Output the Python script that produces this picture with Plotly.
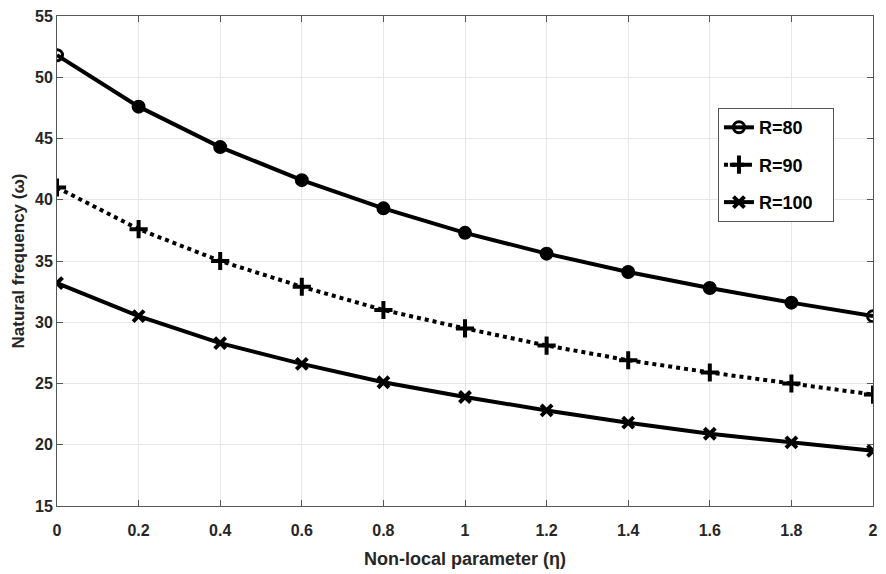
import plotly.graph_objects as go

eta = [0, 0.2, 0.4, 0.6, 0.8, 1.0, 1.2, 1.4, 1.6, 1.8, 2.0]
r80 = [51.8, 47.6, 44.3, 41.6, 39.3, 37.3, 35.6, 34.1, 32.8, 31.6, 30.5]
r90 = [41.0, 37.6, 35.0, 32.9, 31.0, 29.5, 28.1, 26.9, 25.9, 25.0, 24.1]
r100 = [33.2, 30.5, 28.3, 26.6, 25.1, 23.9, 22.8, 21.8, 20.9, 20.2, 19.5]
names = ["R=80", "R=90", "R=100"]

font_fam = "Liberation Sans, Arial, sans-serif"
pad = "\u00a0" * 3

fig = go.Figure()
sym80 = ["circle-open"] + ["circle"] * (len(eta) - 2) + ["circle-open"]
fig.add_trace(go.Scatter(x=eta, y=r80, name=names[0] + pad, mode="lines+markers",
                         line=dict(color="black", width=4),
                         marker=dict(symbol=sym80, size=11, color="black",
                                     line=dict(color="black", width=3)),
                         legendgroup="a"))
fig.add_trace(go.Scatter(x=eta, y=r90, name=names[1] + pad, mode="lines+markers",
                         line=dict(color="black", width=4, dash="4px,4px"),
                         marker=dict(symbol="cross-thin", size=13, color="black",
                                     line=dict(color="black", width=4)),
                         legendgroup="b"))
fig.add_trace(go.Scatter(x=eta, y=r100, name=names[2] + pad, mode="lines+markers",
                         line=dict(color="black", width=4),
                         marker=dict(symbol="x-thin", size=11, color="black",
                                     line=dict(color="black", width=4)),
                         legendgroup="c"))

axis_common = dict(showline=True, linecolor="#555555", linewidth=1, mirror="ticks",
                   ticks="inside", ticklen=6, tickcolor="#555555",
                   showgrid=True, gridcolor="#e6e6e6", gridwidth=1, zeroline=False,
                   tickfont=dict(family=font_fam, size=16, color="#262626", weight="bold"))

fig.update_xaxes(range=[0, 2], dtick=0.2, tickformat="~g", ticklabelstandoff=10,
                 title=dict(text="Non-local parameter (η)", standoff=14,
                            font=dict(family=font_fam, size=18, color="#262626", weight="bold")),
                 **axis_common)
fig.update_yaxes(range=[15, 55], dtick=5,
                 title=dict(text="Natural frequency (ω)", standoff=6,
                            font=dict(family=font_fam, size=17, color="#262626", weight="bold")),
                 **axis_common)

fig.update_layout(
    width=886, height=574,
    margin=dict(l=57, r=8, t=13, b=68),
    plot_bgcolor="white", paper_bgcolor="white",
    showlegend=True,
    legend=dict(x=0.81, y=0.812, xanchor="left", yanchor="top",
                bordercolor="#555555", borderwidth=1, bgcolor="white",
                itemwidth=30, tracegroupgap=11,
                font=dict(family=font_fam, size=18, color="black", weight="bold")),
)

fig.write_html("out.html")
